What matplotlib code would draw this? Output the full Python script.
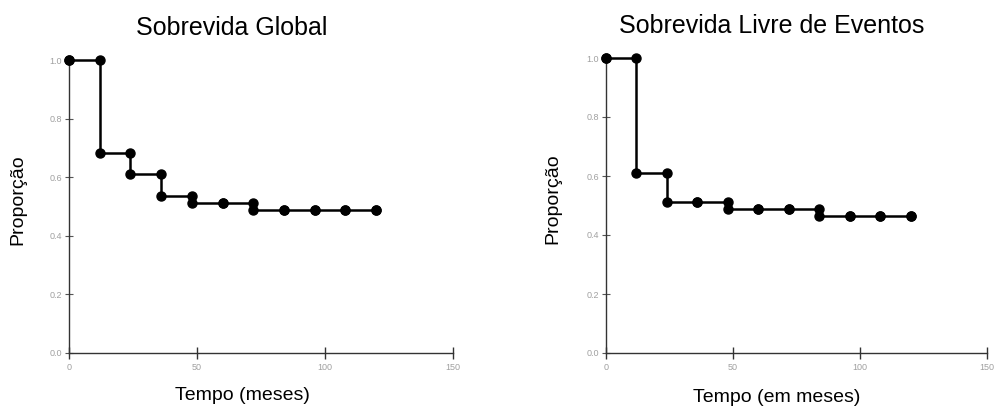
import numpy as np
import matplotlib.pyplot as plt

plt.rcParams['font.family'] = ['Liberation Sans', 'DejaVu Sans']

# tempos de avaliação (meses)
tempo = [0, 12, 24, 36, 48, 60, 72, 84, 96, 108, 120]

# proporção após cada tempo
sobrevida_global = [1.0, 0.683, 0.610, 0.537, 0.512, 0.512, 0.488, 0.488, 0.488, 0.488, 0.488]
sobrevida_livre = [1.0, 0.610, 0.512, 0.512, 0.488, 0.488, 0.488, 0.463, 0.463, 0.463, 0.463]

y_ticks = [0.0, 0.2, 0.4, 0.6, 0.8, 1.0]
x_ticks = [0, 50, 100, 150]


def km_plot(ax, t, s):
    t = np.array(t)
    s = np.array(s)
    ax.step(t, s, where='post', color='black', linewidth=1.8, zorder=3,
            clip_on=False)
    # pontos antes e depois de cada queda
    s_prev = np.concatenate([[s[0]], s[:-1]])
    ax.plot(t, s_prev, 'o', color='black', markersize=6.5, zorder=4, clip_on=False)
    ax.plot(t, s, 'o', color='black', markersize=6.5, zorder=4, clip_on=False)

    ax.set_xlim(0, 150)
    ax.set_ylim(0, 1.0)
    ax.set_xticks(x_ticks)
    ax.set_yticks(y_ticks)
    ax.set_yticklabels([f"{v:.1f}" for v in y_ticks])
    for side in ['top', 'right']:
        ax.spines[side].set_visible(False)
    for side in ['left', 'bottom']:
        ax.spines[side].set_color('#333333')
        ax.spines[side].set_linewidth(1.0)
    ax.tick_params(axis='x', direction='inout', length=9, width=1.0,
                   color='#333333', labelsize=6.5, labelcolor='#a0a0a0', pad=3)
    ax.tick_params(axis='y', direction='inout', length=6, width=0.8,
                   color='#555555', labelsize=6.5, labelcolor='#a0a0a0', pad=2)
    ax.patch.set_alpha(0)


fig = plt.figure(figsize=(9.96, 4.07), dpi=100)

ax1 = fig.add_axes([69 / 996, 54 / 407, 384 / 996, 293 / 407])
km_plot(ax1, tempo, sobrevida_global)

ax2 = fig.add_axes([606 / 996, 54 / 407, 381 / 996, 295 / 407])
km_plot(ax2, tempo, sobrevida_livre)

fig.text(232 / 996, 1 - 28 / 407, "Sobrevida Global", fontsize=18,
         ha='center', va='center')
fig.text(772 / 996, 1 - 26 / 407, "Sobrevida Livre de Eventos", fontsize=18,
         ha='center', va='center')

fig.text(242 / 996, 1 - 396 / 407, "Tempo (meses)", fontsize=14,
         ha='center', va='center')
fig.text(777 / 996, 1 - 398 / 407, "Tempo (em meses)", fontsize=14,
         ha='center', va='center')

fig.text(18 / 996, 1 - 200 / 407, "Proporção", fontsize=14, rotation=90,
         ha='center', va='center')
fig.text(553 / 996, 1 - 199 / 407, "Proporção", fontsize=14, rotation=90,
         ha='center', va='center')

fig.savefig("out.png", dpi=100)
